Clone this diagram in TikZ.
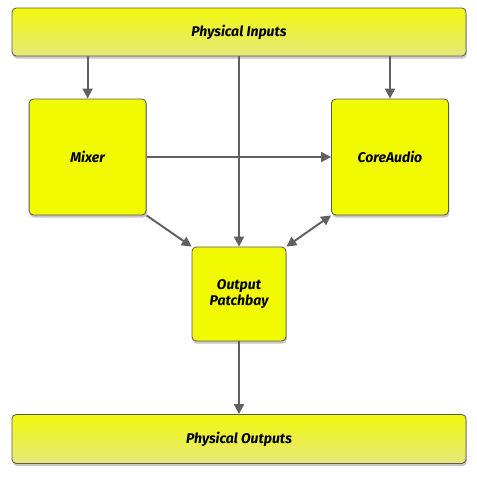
\documentclass[tikz,border=0pt]{standalone}
\usepackage{fontspec}
\setsansfont{Fira Sans}
\usetikzlibrary{arrows.meta, positioning, shadows, calc}
\usepackage{xcolor}
\definecolor{BoxYellow}{HTML}{F2FA00}
\definecolor{BarTop}{HTML}{F2F80C}
\definecolor{BarBottom}{HTML}{E6E87C}
\definecolor{EdgeGray}{HTML}{5A5A5A}
\definecolor{ArrowGray}{HTML}{606060}
\tikzset{
    % Box styles
    bar/.style={
        rectangle,
        rounded corners=3pt,
        draw=EdgeGray,
        top color=BarTop,
        bottom color=BarBottom,
        line width=0.6pt,
        minimum width=11.35cm,
        minimum height=1.2cm,
        align=center,
        font=\sffamily\bfseries\itshape,
        drop shadow={shadow xshift=0.6pt, shadow yshift=-1.8pt, opacity=0.45}
    },
    unit/.style={
        rectangle,
        rounded corners=3pt,
        draw=EdgeGray,
        fill=BoxYellow,
        line width=0.6pt,
        minimum width=2.925cm,
        minimum height=2.9cm,
        align=center,
        font=\sffamily\bfseries\itshape,
        drop shadow={shadow xshift=0.6pt, shadow yshift=-1.8pt, opacity=0.45}
    },
    % Arrow styles
    arrow/.style={
        -{Triangle[length=7pt, width=7pt]},
        line width=1.4pt,
        draw=ArrowGray
    },
    twoway/.style={
        {Triangle[length=7pt, width=7pt]}-{Triangle[length=7pt, width=7pt]},
        line width=1.4pt,
        draw=ArrowGray
    }
}

\begin{document}
\begin{tikzpicture}
    \useasboundingbox (0,0) rectangle (11.925,-11.975);
    % Inputs and outputs
    \node[bar] (inputs) at (5.975,-0.8) {Physical Inputs};
    \node[bar, minimum height=1.225cm] (outputs) at (5.975,-10.975) {Physical Outputs};

    % Processing units
    \node[unit] (mixer) at (2.19,-3.925) {Mixer};
    \node[unit] (core) at (9.75,-3.925) {CoreAudio};
    \node[unit, minimum width=2.35cm, minimum height=2.35cm] (patch) at (5.975,-7.35) {Output\\Patchbay};

    % Connections
    \draw[arrow] (inputs.south -| mixer.north) -- (mixer.north);
    \draw[arrow] (inputs.south -| core.north) -- (core.north);
    \draw[arrow] (inputs.south) -- (patch.north);
    \draw[arrow] (mixer.east) -- (core.west);
    \draw[arrow] (mixer.south east) -- (patch.north west);
    \draw[twoway] (patch.north east) -- (core.south west);
    \draw[arrow] (patch.south) -- (outputs.north);
\end{tikzpicture}
\end{document}
